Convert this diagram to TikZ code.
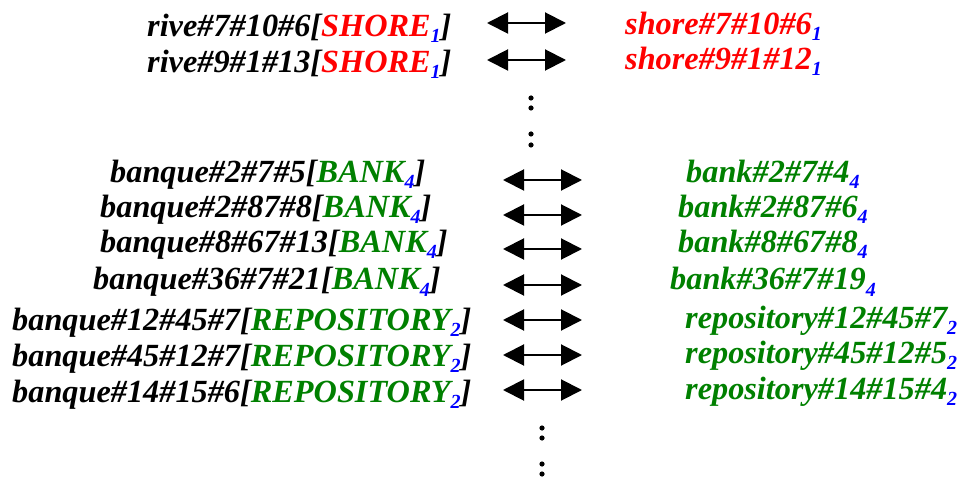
\documentclass[tikz,border=0pt]{standalone}
\usepackage{fontspec}
\setmainfont{Liberation Serif}
\usetikzlibrary{arrows.meta}
\definecolor{wred}{RGB}{255,0,0}
\definecolor{wgreen}{RGB}{0,128,0}
\definecolor{wblue}{RGB}{0,0,255}
% sense number set as a blue lowered index
\newcommand{\sensenum}[1]{\raisebox{-6pt}{\fontsize{20}{20}\selectfont\color{wblue}#1}}
\begin{document}
\begin{tikzpicture}[x=1pt,y=-1pt,
  word/.style={anchor=base west, inner sep=0pt,
    font=\fontsize{32.3}{32.3}\selectfont\bfseries\itshape},
  link/.style={{Triangle[length=21pt,width=21pt]}-{Triangle[length=21pt,width=21pt]},
    line width=2pt},
  dotmark/.style={fill=black, draw=none}]
\useasboundingbox (0,0) rectangle (958,478);

% French sense-tagged words
\node[word] (l1) at (147,37) {rive\#7\#10\#6[\textcolor{wred}{SHORE\sensenum{1}}]};
\node[word] (l2) at (147,73) {rive\#9\#1\#13[\textcolor{wred}{SHORE\sensenum{1}}]};
\node[word] (l3) at (110,183) {banque\#2\#7\#5[\textcolor{wgreen}{BANK\sensenum{4}}]};
\node[word] (l4) at (100,218) {banque\#2\#87\#8[\textcolor{wgreen}{BANK\sensenum{4}}]};
\node[word] (l5) at (100,253) {banque\#8\#67\#13[\textcolor{wgreen}{BANK\sensenum{4}}]};
\node[word] (l6) at (93,290) {banque\#36\#7\#21[\textcolor{wgreen}{BANK\sensenum{4}}]};
\node[word] (l7) at (12,330) {banque\#12\#45\#7[\textcolor{wgreen}{REPOSITORY\sensenum{2}}]};
\node[word] (l8) at (12,366) {banque\#45\#12\#7[\textcolor{wgreen}{REPOSITORY\sensenum{2}}]};
\node[word] (l9) at (12,402) {banque\#14\#15\#6[\textcolor{wgreen}{REPOSITORY\sensenum{2}}]};

% English counterparts
\node[word, text=wred] (r1) at (625,35) {shore\#7\#10\#6\sensenum{1}};
\node[word, text=wred] (r2) at (625,70) {shore\#9\#1\#12\sensenum{1}};
\node[word, text=wgreen] (r3) at (686,183) {bank\#2\#7\#4\sensenum{4}};
\node[word, text=wgreen] (r4) at (678,218) {bank\#2\#87\#6\sensenum{4}};
\node[word, text=wgreen] (r5) at (678,253) {bank\#8\#67\#8\sensenum{4}};
\node[word, text=wgreen] (r6) at (670,290) {bank\#36\#7\#19\sensenum{4}};
\node[word, text=wgreen] (r7) at (685,328) {repository\#12\#45\#7\sensenum{2}};
\node[word, text=wgreen] (r8) at (685,363) {repository\#45\#12\#5\sensenum{2}};
\node[word, text=wgreen] (r9) at (685,399) {repository\#14\#15\#4\sensenum{2}};

% double-headed correspondence arrows
\foreach \n/\xa/\xb/\y in {1/487/566/23, 2/487/566/60,
    3/503/582/180, 4/503/582/215, 5/503/582/249, 6/503/582/285,
    7/503/582/320, 8/503/582/355, 9/503/582/390}{
  \coordinate (a\n) at (\xa,\y);
  \coordinate (b\n) at (\xb,\y);
  \draw[link] (a\n) -- (b\n);
}

% vertical ellipses
\foreach \x/\y in {531/98, 531/108, 531/134, 531/145,
    542/428, 542/438, 542/464, 542/474}{
  \fill[dotmark] (\x,\y) circle (2.6pt);
}
\end{tikzpicture}
\end{document}
